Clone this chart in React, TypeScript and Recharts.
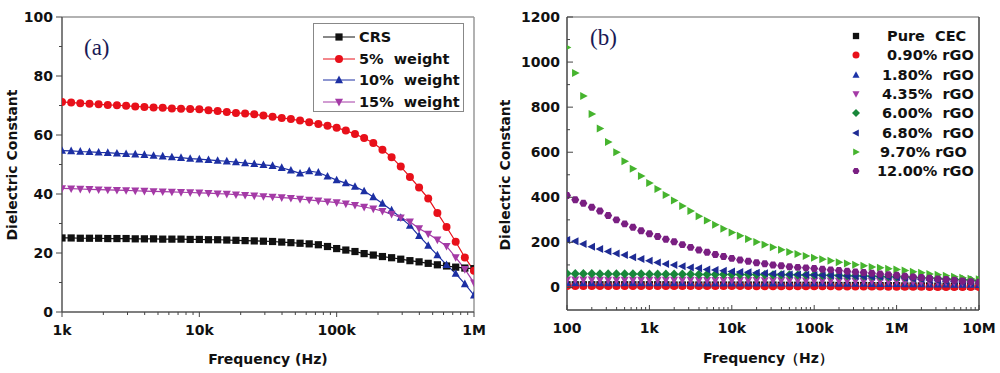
import React from 'react';
import { LineChart, Line, XAxis, YAxis, ReferenceLine } from 'recharts';

const FONT = '"DejaVu Sans", "Liberation Sans", sans-serif';

// ---------- Panel (a) ----------
const freqA = [
  1000, 1166, 1359, 1585, 1848, 2154, 2512, 2929, 3415, 3981, 4642, 5412, 6310, 7356, 8577,
  10000, 11659, 13594, 15849, 18478, 21544, 25119, 29286, 34145, 39811, 46416, 54117, 63096, 73564, 85770,
  100000, 116591, 135936, 158489, 184785, 215443, 251189, 292864, 341455, 398107, 464159, 541170, 630957, 735642, 857696,
  1000000,
];
const crsA = [
  25.1, 25.1, 25.0, 25.0, 25.0, 24.9, 24.9, 24.9, 24.8, 24.8, 24.8, 24.7, 24.7, 24.7, 24.6,
  24.6, 24.5, 24.5, 24.4, 24.3, 24.2, 24.1, 24.0, 23.9, 23.7, 23.5, 23.3, 23.1, 22.8, 22.2,
  21.5, 21.0, 20.5, 19.8, 19.3, 18.8, 18.4, 17.9, 17.4, 17.0, 16.5, 16.0, 15.6, 15.2, 14.9,
  14.7,
];
const w5A = [
  71.2, 71.0, 70.8, 70.6, 70.4, 70.2, 70.1, 69.9, 69.7, 69.5, 69.3, 69.2, 69.0, 68.9, 68.8,
  68.7, 68.4, 68.1, 67.8, 67.5, 67.3, 67.0, 66.6, 66.2, 65.8, 65.4, 64.9, 64.3, 63.7, 63.1,
  62.5, 61.5, 60.3, 59.0, 57.3, 55.0, 52.5, 49.3, 45.8, 42.2, 38.5, 33.6, 28.8, 23.8, 18.5,
  14.0,
];
const w10A = [
  54.7, 54.6, 54.4, 54.3, 54.1, 54.0, 53.8, 53.6, 53.5, 53.3, 53.0, 52.8, 52.5, 52.3, 52.0,
  51.8, 51.6, 51.3, 51.1, 50.8, 50.5, 50.2, 49.9, 49.6, 48.9, 48.0, 47.0, 47.8, 47.3, 46.0,
  44.7, 43.7, 42.5, 41.0, 39.0, 36.8, 34.5, 32.0, 29.3, 25.8, 22.5, 19.3, 16.0, 13.0, 9.5,
  5.7,
];
const w15A = [
  41.9, 41.8, 41.7, 41.6, 41.5, 41.4, 41.3, 41.2, 41.1, 41.0, 40.9, 40.8, 40.7, 40.6, 40.5,
  40.4, 40.3, 40.1, 40.0, 39.8, 39.6, 39.4, 39.2, 39.0, 38.8, 38.6, 38.3, 38.0, 37.7, 37.4,
  37.1, 36.7, 36.2, 35.6, 35.0, 34.2, 33.2, 32.0, 30.6, 28.3, 26.5, 24.5, 22.3, 18.5, 14.5,
  9.9,
];
const xMajorA = [1000, 10000, 100000, 1000000];
const xLabelsA = ['1k', '10k', '100k', '1M'];
const yMajorA = [0, 20, 40, 60, 80, 100];
const yMinorA = [10, 30, 50, 70, 90];
const seriesA = [
  { key: 'crs', name: 'CRS', color: '#111111', shape: 'square' },
  { key: 'w5', name: '5%  weight', color: '#e8101a', shape: 'circle' },
  { key: 'w10', name: '10%  weight', color: '#1c2fa3', shape: 'up' },
  { key: 'w15', name: '15%  weight', color: '#a43aa6', shape: 'down' },
];

// ---------- Panel (b) ----------
const freqB = [
  100, 126, 158, 200, 251, 316, 398, 501, 631, 794,
  1000, 1259, 1585, 1995, 2512, 3162, 3981, 5012, 6310, 7943,
  10000, 12589, 15849, 19953, 25119, 31623, 39811, 50119, 63096, 79433,
  100000, 125893, 158489, 199526, 251189, 316228, 398107, 501187, 630957, 794328,
  1000000, 1258925, 1584893, 1995262, 2511886, 3162278, 3981072, 5011872, 6309573, 7943282,
  10000000,
];
const pureB = [12, 12, 12, 12, 12, 12, 12, 12, 12, 12, 12, 12, 12, 11, 11, 11, 11, 11, 11, 11, 11, 11, 11, 11, 11, 11, 10, 10, 10, 10, 10, 10, 10, 9, 9, 9, 9, 8, 8, 8, 8, 7, 7, 7, 7, 6, 6, 6, 6, 5, 5];
const r090B = [7, 7, 7, 7, 7, 7, 7, 7, 6, 6, 6, 6, 6, 6, 6, 6, 6, 6, 6, 6, 6, 6, 6, 5, 5, 5, 5, 5, 5, 5, 5, 5, 5, 4, 4, 4, 4, 4, 4, 3, 3, 3, 3, 3, 2, 2, 2, 2, 2, 2, 2];
const r180B = [20, 20, 20, 20, 20, 20, 20, 20, 20, 20, 20, 20, 20, 20, 20, 20, 19, 19, 19, 19, 19, 19, 19, 19, 19, 19, 19, 18, 18, 18, 18, 18, 18, 17, 17, 17, 17, 16, 16, 16, 16, 15, 15, 15, 14, 14, 14, 13, 13, 13, 12];
const r435B = [34, 34, 34, 34, 33, 33, 33, 33, 33, 33, 33, 33, 33, 33, 33, 33, 32, 32, 32, 32, 32, 32, 32, 32, 31, 31, 31, 31, 31, 30, 30, 30, 30, 29, 29, 29, 28, 28, 28, 27, 27, 26, 26, 25, 25, 24, 24, 23, 22, 21, 20];
const r600B = [62, 61, 61, 61, 60, 60, 60, 60, 60, 60, 59, 59, 59, 59, 59, 59, 58, 58, 58, 58, 58, 57, 57, 57, 57, 56, 56, 56, 55, 55, 55, 54, 54, 53, 52, 52, 51, 50, 49, 48, 47, 46, 45, 43, 42, 40, 38, 36, 34, 32, 30];
const r680B = [211, 205, 193, 181, 171, 160, 151, 144, 134, 126, 119, 111, 104, 100, 94, 89, 85, 80, 77, 74, 71, 69, 67, 65, 63, 61, 60, 58, 57, 56, 55, 54, 53, 52, 51, 50, 49, 48, 47, 46, 45, 42, 39, 36, 33, 30, 28, 26, 24, 22, 20];
const r970B = [1065, 952, 850, 770, 705, 645, 600, 560, 527, 495, 463, 437, 410, 386, 361, 339, 316, 297, 278, 260, 244, 229, 215, 202, 190, 178, 167, 157, 148, 140, 132, 125, 118, 112, 106, 101, 96, 91, 87, 83, 80, 75, 70, 65, 60, 56, 52, 47, 43, 39, 36];
const r1200B = [408, 389, 374, 356, 339, 319, 300, 282, 267, 252, 238, 226, 214, 203, 190, 178, 166, 156, 146, 137, 129, 122, 116, 110, 105, 100, 96, 92, 89, 87, 84, 81, 78, 75, 72, 69, 66, 63, 60, 57, 54, 50, 47, 44, 41, 38, 35, 32, 29, 26, 23];
const xMajorB = [100, 1000, 10000, 100000, 1000000, 10000000];
const xLabelsB = ['100', '1k', '10k', '100k', '1M', '10M'];
const yMajorB = [0, 200, 400, 600, 800, 1000, 1200];
const yMinorB = [100, 300, 500, 700, 900, 1100];
const seriesB = [
  { key: 'pure', name: 'Pure  CEC', color: '#111111', shape: 'square', tx: 887 },
  { key: 'r090', name: '0.90% rGO', color: '#e8101a', shape: 'circle', tx: 887 },
  { key: 'r180', name: '1.80%  rGO', color: '#1c33a8', shape: 'up', tx: 882 },
  { key: 'r435', name: '4.35%  rGO', color: '#a43aa6', shape: 'down', tx: 882 },
  { key: 'r600', name: '6.00%  rGO', color: '#18873a', shape: 'diamond', tx: 882 },
  { key: 'r680', name: '6.80%  rGO', color: '#1e2b94', shape: 'left', tx: 882 },
  { key: 'r970', name: '9.70% rGO', color: '#46b42e', shape: 'right', tx: 880 },
  { key: 'r1200', name: '12.00% rGO', color: '#7a1f82', shape: 'hexagon', tx: 877 },
];

const dataA = freqA.map((f, i) => ({ f, crs: crsA[i], w5: w5A[i], w10: w10A[i], w15: w15A[i] }));
const dataB = freqB.map((f, i) => ({
  f, pure: pureB[i], r090: r090B[i], r180: r180B[i], r435: r435B[i],
  r600: r600B[i], r680: r680B[i], r970: r970B[i], r1200: r1200B[i],
}));

function minorTicks(majors: number[]) {
  const out: number[] = [];
  for (let i = 0; i < majors.length - 1; i++) {
    for (let m = 2; m <= 9; m++) out.push(majors[i] * m);
  }
  return out;
}

function Marker({ cx, cy, shape, color, size }: any) {
  if (cx == null || cy == null || isNaN(cx) || isNaN(cy)) return null;
  const r = size / 2;
  switch (shape) {
    case 'square':
      return <rect x={cx - r * 0.9} y={cy - r * 0.9} width={size * 0.9} height={size * 0.9} fill={color} />;
    case 'circle':
      return <circle cx={cx} cy={cy} r={r} fill={color} />;
    case 'up':
      return <polygon points={`${cx},${cy - r * 1.1} ${cx + r},${cy + r * 0.8} ${cx - r},${cy + r * 0.8}`} fill={color} />;
    case 'down':
      return <polygon points={`${cx},${cy + r * 1.1} ${cx + r},${cy - r * 0.8} ${cx - r},${cy - r * 0.8}`} fill={color} />;
    case 'left':
      return <polygon points={`${cx - r * 1.1},${cy} ${cx + r * 0.8},${cy - r} ${cx + r * 0.8},${cy + r}`} fill={color} />;
    case 'right':
      return <polygon points={`${cx + r * 1.1},${cy} ${cx - r * 0.8},${cy - r} ${cx - r * 0.8},${cy + r}`} fill={color} />;
    case 'diamond':
      return <polygon points={`${cx},${cy - r * 1.15} ${cx + r * 1.15},${cy} ${cx},${cy + r * 1.15} ${cx - r * 1.15},${cy}`} fill={color} />;
    case 'hexagon': {
      const pts = [0, 1, 2, 3, 4, 5].map((k) => {
        const a = (Math.PI / 3) * k;
        return `${cx + r * Math.cos(a)},${cy + r * Math.sin(a)}`;
      }).join(' ');
      return <polygon points={pts} fill={color} />;
    }
    default:
      return <circle cx={cx} cy={cy} r={r} fill={color} />;
  }
}

const tickText = { fontFamily: FONT, fontWeight: 700, fontSize: 14, fill: '#111' } as const;

function makeXTick(majors: number[], labels: string[], inward: boolean) {
  return (props: any) => {
    const { x, y, payload } = props;
    const idx = majors.findIndex((m) => Math.abs(m - payload.value) / m < 1e-6);
    const isMajor = idx >= 0;
    const len = isMajor ? 5 : 3;
    const y2 = inward ? y - len : y + len;
    return (
      <g>
        <line x1={x} x2={x} y1={y} y2={y2} stroke="#444" strokeWidth={1} />
        {isMajor && (
          <text x={x} y={y + 23} textAnchor="middle" style={tickText}>{labels[idx]}</text>
        )}
      </g>
    );
  };
}

function makeYTick(majors: number[], inward: boolean, labelGap: number) {
  return (props: any) => {
    const { x, y, payload } = props;
    const isMajor = majors.includes(payload.value);
    const len = isMajor ? 6 : 3;
    const x2 = inward ? x + len : x - len;
    return (
      <g>
        <line x1={x} x2={x2} y1={y} y2={y} stroke="#444" strokeWidth={1} />
        {isMajor && (
          <text x={x - labelGap} y={y + 5} textAnchor="end" style={tickText}>{payload.value}</text>
        )}
      </g>
    );
  };
}

const titleStyle: React.CSSProperties = {
  position: 'absolute', fontFamily: FONT, fontWeight: 700, fontSize: 14, color: '#111',
  whiteSpace: 'pre', lineHeight: '16px',
};

function LegendSwatch({ shape, color, line }: any) {
  return (
    <svg width={34} height={14} style={{ position: 'absolute', left: 0, top: 0 }}>
      {line && <line x1={1} x2={33} y1={7} y2={7} stroke={color} strokeWidth={1} />}
      <Marker cx={17} cy={7} shape={shape} color={color} size={8} />
    </svg>
  );
}

export default function App() {
  const ticksXA = [...xMajorA, ...minorTicks(xMajorA)];
  const ticksYA = [...yMajorA, ...yMinorA];
  const ticksXB = [...xMajorB, ...minorTicks(xMajorB)];
  const ticksYB = [...yMajorB, ...yMinorB];

  return (
    <div style={{ position: 'absolute', left: 0, top: 0, width: 1000, height: 373, background: '#fff', overflow: 'hidden' }}>
      {/* Panel (a) */}
      <div style={{ position: 'absolute', left: 0, top: 0 }}>
        <LineChart width={500} height={373} data={dataA} margin={{ top: 17, right: 26, bottom: 0, left: 0 }}>
          <XAxis
            dataKey="f" type="number" scale="log" domain={[1000, 1000000]} allowDataOverflow
            ticks={ticksXA} interval={0} tick={makeXTick(xMajorA, xLabelsA, false)}
            tickLine={false} tickSize={0} tickMargin={0} height={61}
            axisLine={{ stroke: '#555', strokeWidth: 1.5 }}
          />
          <YAxis
            type="number" domain={[0, 100]} allowDataOverflow ticks={ticksYA} interval={0}
            tick={makeYTick(yMajorA, false, 9)} tickLine={false} tickSize={0} tickMargin={0} width={62}
            axisLine={{ stroke: '#555', strokeWidth: 1.5 }}
          />
          <ReferenceLine y={100} stroke="#999" strokeWidth={1.5} />
          <ReferenceLine x={1000000} stroke="#999" strokeWidth={1.5} />
          {seriesA.map((s) => (
            <Line
              key={s.key} dataKey={s.key} stroke={s.color} strokeWidth={1.2} isAnimationActive={false}
              activeDot={false}
              dot={(p: any) => <Marker key={`${s.key}-${p.index}`} cx={p.cx} cy={p.cy} shape={s.shape} color={s.color} size={8} />}
            />
          ))}
        </LineChart>
      </div>

      {/* Panel (b) */}
      <div style={{ position: 'absolute', left: 500, top: 0 }}>
        <LineChart width={500} height={373} data={dataB} margin={{ top: 17, right: 21, bottom: 0, left: 0 }}>
          <XAxis
            dataKey="f" type="number" scale="log" domain={[100, 10000000]} allowDataOverflow
            ticks={ticksXB} interval={0} tick={makeXTick(xMajorB, xLabelsB, true)}
            tickLine={false} tickSize={0} tickMargin={0} height={63}
            axisLine={{ stroke: '#444', strokeWidth: 1.5 }}
          />
          <YAxis
            type="number" domain={[-100, 1200]} allowDataOverflow ticks={ticksYB} interval={0}
            tick={makeYTick(yMajorB, true, 7)} tickLine={false} tickSize={0} tickMargin={0} width={67}
            axisLine={{ stroke: '#444', strokeWidth: 1.5 }}
          />
          <ReferenceLine y={1200} stroke="#999" strokeWidth={1.5} />
          <ReferenceLine x={10000000} stroke="#444" strokeWidth={1.5} />
          {seriesB.map((s) => (
            <Line
              key={s.key} dataKey={s.key} stroke="none" isAnimationActive={false}
              activeDot={false}
              dot={(p: any) => <Marker key={`${s.key}-${p.index}`} cx={p.cx} cy={p.cy} shape={s.shape} color={s.color} size={8} />}
            />
          ))}
        </LineChart>
      </div>

      {/* Panel labels */}
      <div style={{ position: 'absolute', left: 84, top: 35, fontFamily: '"Liberation Serif", serif', fontSize: 23, color: '#1a1a55' }}>(a)</div>
      <div style={{ position: 'absolute', left: 590, top: 25, fontFamily: '"Liberation Serif", serif', fontSize: 23, color: '#1a1a55' }}>(b)</div>

      {/* Axis titles */}
      <div style={{ ...titleStyle, left: 268, top: 351, transform: 'translateX(-50%)' }}>Frequency (Hz)</div>
      <div style={{ ...titleStyle, left: 768, top: 350, transform: 'translateX(-50%)' }}>Frequency（Hz）</div>
      <div style={{ ...titleStyle, left: 12, top: 165, transform: 'translate(-50%, -50%) rotate(-90deg)' }}>Dielectric Constant</div>
      <div style={{ ...titleStyle, left: 505, top: 175, transform: 'translate(-50%, -50%) rotate(-90deg)' }}>Dielectric Constant</div>

      {/* Legend (a) */}
      <div style={{ position: 'absolute', left: 313, top: 23, width: 149, height: 87, border: '1px solid #888', background: '#fff' }}>
        {seriesA.map((s, i) => (
          <div key={s.key} style={{ position: 'absolute', left: 8, top: 6 + i * 21.7, height: 14 }}>
            <LegendSwatch shape={s.shape} color={s.color} line />
            <span style={{ position: 'absolute', left: 37, top: -2, fontFamily: FONT, fontWeight: 700, fontSize: 14.5, whiteSpace: 'pre', color: '#111', lineHeight: '18px' }}>{s.name}</span>
          </div>
        ))}
      </div>

      {/* Legend (b) */}
      {seriesB.map((s, i) => (
        <div key={s.key} style={{ position: 'absolute', left: 0, top: 29 + i * 19.3, width: 1000, height: 14 }}>
          <svg width={14} height={14} style={{ position: 'absolute', left: 849, top: 0 }}>
            <Marker cx={7} cy={7} shape={s.shape} color={s.color} size={7} />
          </svg>
          <span style={{ position: 'absolute', left: s.tx, top: -2, fontFamily: FONT, fontWeight: 700, fontSize: 14.5, whiteSpace: 'pre', color: '#111', lineHeight: '18px' }}>{s.name}</span>
        </div>
      ))}
    </div>
  );
}
